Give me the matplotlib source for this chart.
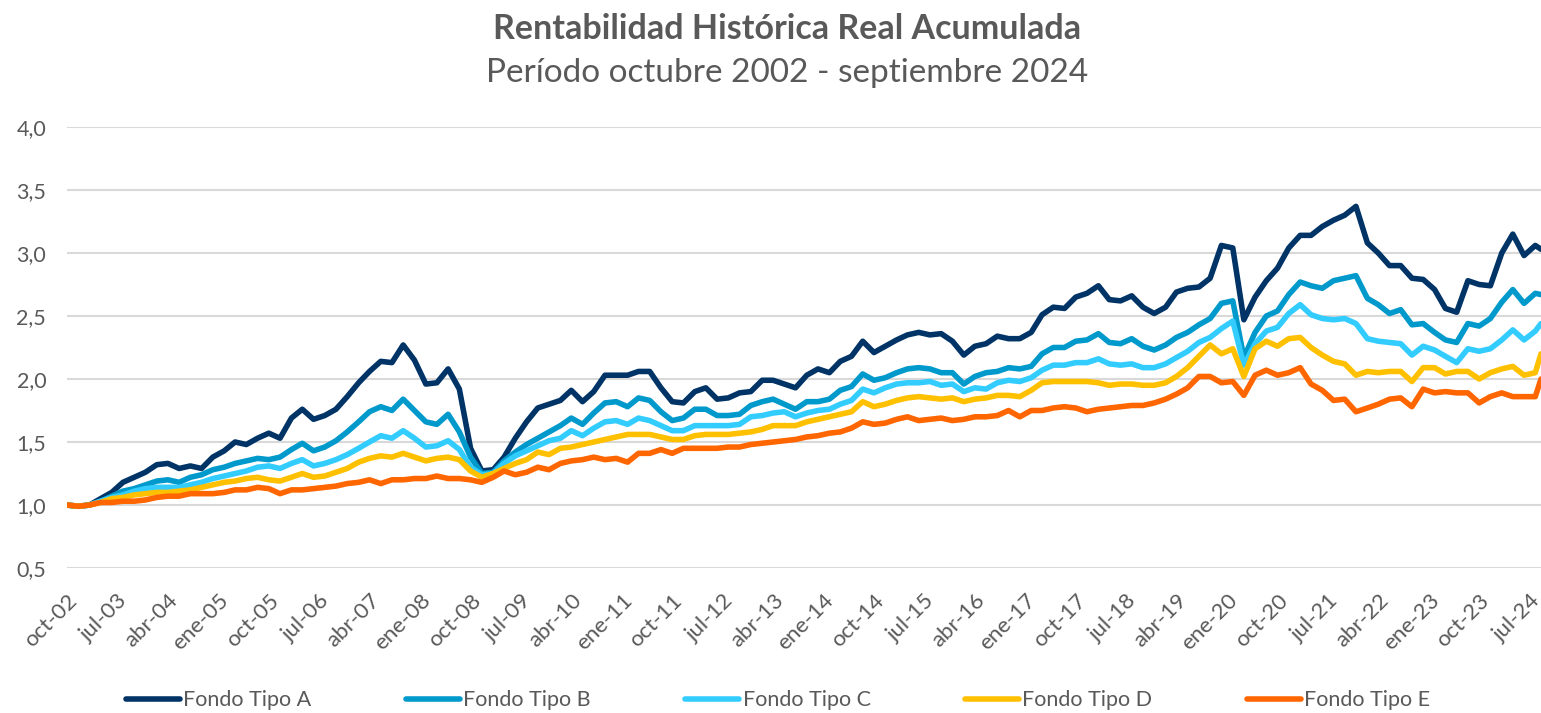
import numpy as np
import pandas as pd
import matplotlib
matplotlib.use("Agg")
import matplotlib.pyplot as plt

plt.rcParams['font.family'] = ['Lato', 'DejaVu Sans']

# bimonthly readings oct-02 .. aug-24, plus the last month (sep-24)
dates = list(pd.date_range('2002-10-01', periods=132, freq='2MS')) + [pd.Timestamp('2024-09-01')]

fondo_a = [1.00, 0.99, 1.00, 1.05, 1.10, 1.18, 1.22, 1.26, 1.32, 1.33,
           1.29, 1.31, 1.29, 1.38, 1.43, 1.50, 1.48, 1.53, 1.57, 1.53,
           1.69, 1.76, 1.68, 1.71, 1.76, 1.86, 1.97, 2.06, 2.14, 2.13,
           2.27, 2.15, 1.96, 1.97, 2.08, 1.92, 1.45, 1.27, 1.28, 1.38,
           1.53, 1.66, 1.77, 1.80, 1.83, 1.91, 1.82, 1.90, 2.03, 2.03,
           2.03, 2.06, 2.06, 1.93, 1.82, 1.81, 1.90, 1.93, 1.84, 1.85,
           1.89, 1.90, 1.99, 1.99, 1.96, 1.93, 2.03, 2.08, 2.05, 2.14,
           2.18, 2.30, 2.21, 2.26, 2.31, 2.35, 2.37, 2.35, 2.36, 2.30,
           2.19, 2.26, 2.28, 2.34, 2.32, 2.32, 2.37, 2.51, 2.57, 2.56,
           2.65, 2.68, 2.74, 2.63, 2.62, 2.66, 2.57, 2.52, 2.57, 2.69,
           2.72, 2.73, 2.80, 3.06, 3.04, 2.47, 2.65, 2.78, 2.88, 3.04,
           3.14, 3.14, 3.21, 3.26, 3.30, 3.37, 3.08, 3.00, 2.90, 2.90,
           2.80, 2.79, 2.71, 2.56, 2.53, 2.78, 2.75, 2.74, 3.00, 3.15,
           2.98, 3.06, 3.03]

fondo_b = [1.00, 0.99, 1.00, 1.03, 1.07, 1.11, 1.13, 1.16, 1.19, 1.20,
           1.18, 1.22, 1.24, 1.28, 1.30, 1.33, 1.35, 1.37, 1.36, 1.38,
           1.44, 1.49, 1.43, 1.46, 1.51, 1.58, 1.66, 1.74, 1.78, 1.75,
           1.84, 1.75, 1.66, 1.64, 1.72, 1.58, 1.38, 1.25, 1.26, 1.35,
           1.42, 1.48, 1.53, 1.58, 1.63, 1.69, 1.64, 1.73, 1.81, 1.82,
           1.78, 1.85, 1.83, 1.74, 1.67, 1.69, 1.76, 1.76, 1.71, 1.71,
           1.72, 1.79, 1.82, 1.84, 1.80, 1.76, 1.82, 1.82, 1.84, 1.91,
           1.94, 2.04, 1.99, 2.01, 2.05, 2.08, 2.09, 2.08, 2.05, 2.05,
           1.96, 2.02, 2.05, 2.06, 2.09, 2.08, 2.10, 2.20, 2.25, 2.25,
           2.30, 2.31, 2.36, 2.29, 2.28, 2.32, 2.26, 2.23, 2.27, 2.33,
           2.37, 2.43, 2.48, 2.60, 2.62, 2.17, 2.37, 2.50, 2.54, 2.67,
           2.77, 2.74, 2.72, 2.78, 2.80, 2.82, 2.64, 2.59, 2.52, 2.55,
           2.43, 2.44, 2.37, 2.31, 2.29, 2.44, 2.42, 2.48, 2.61, 2.71,
           2.60, 2.68, 2.67]

fondo_c = [1.00, 0.99, 1.00, 1.03, 1.06, 1.08, 1.11, 1.13, 1.14, 1.14,
           1.14, 1.16, 1.18, 1.21, 1.23, 1.25, 1.27, 1.30, 1.31, 1.29,
           1.33, 1.36, 1.31, 1.33, 1.36, 1.40, 1.45, 1.50, 1.55, 1.53,
           1.59, 1.53, 1.46, 1.47, 1.51, 1.44, 1.30, 1.24, 1.25, 1.33,
           1.39, 1.43, 1.47, 1.51, 1.53, 1.59, 1.55, 1.61, 1.66, 1.67,
           1.64, 1.69, 1.67, 1.63, 1.59, 1.59, 1.63, 1.63, 1.63, 1.63,
           1.64, 1.70, 1.71, 1.73, 1.74, 1.70, 1.73, 1.75, 1.76, 1.80,
           1.83, 1.92, 1.89, 1.93, 1.96, 1.97, 1.97, 1.98, 1.95, 1.96,
           1.90, 1.93, 1.92, 1.97, 1.99, 1.98, 2.01, 2.07, 2.11, 2.11,
           2.13, 2.13, 2.16, 2.12, 2.11, 2.12, 2.09, 2.09, 2.12, 2.17,
           2.22, 2.29, 2.33, 2.40, 2.46, 2.11, 2.28, 2.38, 2.41, 2.52,
           2.59, 2.51, 2.48, 2.47, 2.48, 2.44, 2.32, 2.30, 2.29, 2.28,
           2.19, 2.26, 2.23, 2.18, 2.13, 2.24, 2.22, 2.24, 2.31, 2.39,
           2.31, 2.38, 2.44]

fondo_d = [1.00, 0.99, 1.00, 1.02, 1.05, 1.06, 1.08, 1.09, 1.10, 1.10,
           1.11, 1.12, 1.14, 1.16, 1.18, 1.19, 1.21, 1.22, 1.20, 1.19,
           1.22, 1.25, 1.22, 1.23, 1.26, 1.29, 1.34, 1.37, 1.39, 1.38,
           1.41, 1.38, 1.35, 1.37, 1.38, 1.36, 1.27, 1.22, 1.25, 1.29,
           1.33, 1.36, 1.42, 1.40, 1.45, 1.46, 1.48, 1.50, 1.52, 1.54,
           1.56, 1.56, 1.56, 1.54, 1.52, 1.52, 1.55, 1.56, 1.56, 1.56,
           1.57, 1.58, 1.60, 1.63, 1.63, 1.63, 1.66, 1.68, 1.70, 1.72,
           1.74, 1.82, 1.78, 1.80, 1.83, 1.85, 1.86, 1.85, 1.84, 1.85,
           1.82, 1.84, 1.85, 1.87, 1.87, 1.86, 1.91, 1.97, 1.98, 1.98,
           1.98, 1.98, 1.97, 1.95, 1.96, 1.96, 1.95, 1.95, 1.97, 2.02,
           2.09, 2.18, 2.27, 2.20, 2.24, 2.02, 2.24, 2.30, 2.26, 2.32,
           2.33, 2.25, 2.19, 2.14, 2.12, 2.03, 2.06, 2.05, 2.06, 2.06,
           1.98, 2.09, 2.09, 2.04, 2.06, 2.06, 2.00, 2.05, 2.08, 2.10,
           2.03, 2.05, 2.20]

fondo_e = [1.00, 0.99, 1.00, 1.02, 1.02, 1.03, 1.03, 1.04, 1.06, 1.07,
           1.07, 1.09, 1.09, 1.09, 1.10, 1.12, 1.12, 1.14, 1.13, 1.09,
           1.12, 1.12, 1.13, 1.14, 1.15, 1.17, 1.18, 1.20, 1.17, 1.20,
           1.20, 1.21, 1.21, 1.23, 1.21, 1.21, 1.20, 1.18, 1.22, 1.27,
           1.24, 1.26, 1.30, 1.28, 1.33, 1.35, 1.36, 1.38, 1.36, 1.37,
           1.34, 1.41, 1.41, 1.44, 1.41, 1.45, 1.45, 1.45, 1.45, 1.46,
           1.46, 1.48, 1.49, 1.50, 1.51, 1.52, 1.54, 1.55, 1.57, 1.58,
           1.61, 1.66, 1.64, 1.65, 1.68, 1.70, 1.67, 1.68, 1.69, 1.67,
           1.68, 1.70, 1.70, 1.71, 1.75, 1.70, 1.75, 1.75, 1.77, 1.78,
           1.77, 1.74, 1.76, 1.77, 1.78, 1.79, 1.79, 1.81, 1.84, 1.88,
           1.93, 2.02, 2.02, 1.97, 1.98, 1.87, 2.03, 2.07, 2.03, 2.05,
           2.09, 1.96, 1.91, 1.83, 1.84, 1.74, 1.77, 1.80, 1.84, 1.85,
           1.78, 1.92, 1.89, 1.90, 1.89, 1.89, 1.81, 1.86, 1.89, 1.86,
           1.86, 1.86, 2.00]

series = [("Fondo Tipo A", fondo_a, "#003366"),
          ("Fondo Tipo B", fondo_b, "#0099CC"),
          ("Fondo Tipo C", fondo_c, "#33CCFF"),
          ("Fondo Tipo D", fondo_d, "#FFC000"),
          ("Fondo Tipo E", fondo_e, "#FF6600")]

meses = ["ene", "feb", "mar", "abr", "may", "jun", "jul", "ago", "sep", "oct", "nov", "dic"]
tick_dates = pd.date_range('2002-10-01', '2024-07-01', freq='9MS')
grey = "#595959"

fig = plt.figure(figsize=(15.41, 7.13), dpi=100)
ax = fig.add_axes([67 / 1541, (713 - 568) / 713, (1541 - 67) / 1541, (568 - 127) / 713])

for name, vals, col in series:
    ax.plot(dates, vals, color=col, lw=4.0, label=name,
            solid_joinstyle='round', solid_capstyle='round')

ax.set_xlim(pd.Timestamp('2002-10-01'), pd.Timestamp('2024-09-01'))
ax.set_ylim(0.5, 4.0)
ax.set_yticks(np.arange(0.5, 4.01, 0.5))
ax.set_yticklabels([f"{v:.1f}".replace(".", ",") for v in np.arange(0.5, 4.01, 0.5)])
ax.grid(axis='y', color='#D9D9D9', lw=1.5)
ax.set_axisbelow(True)
for s in ax.spines.values():
    s.set_visible(False)

ax.set_xticks(tick_dates)
ax.set_xticklabels([f"{meses[d.month - 1]}-{d.year % 100:02d}" for d in tick_dates],
                   rotation=45, ha='right', rotation_mode='anchor')
ax.tick_params(axis='both', length=0, colors=grey)
ax.tick_params(axis='y', pad=15, labelsize=15.5)
ax.tick_params(axis='x', pad=16, labelsize=16)

fig.text(0.511, 0.960, "Rentabilidad Histórica Real Acumulada", ha='center', va='center',
         fontsize=24.5, fontweight='bold', color=grey)
fig.text(0.511, 0.898, "Período octubre 2002 - septiembre 2024", ha='center', va='center',
         fontsize=24, color=grey)

fig.legend(loc='center', bbox_to_anchor=(0.505, 0.018), ncol=5, frameon=False,
           fontsize=15.5, labelcolor=grey, handlelength=2.5, handletextpad=0.15,
           columnspacing=4.4)

fig.savefig("out.png", dpi=100)
